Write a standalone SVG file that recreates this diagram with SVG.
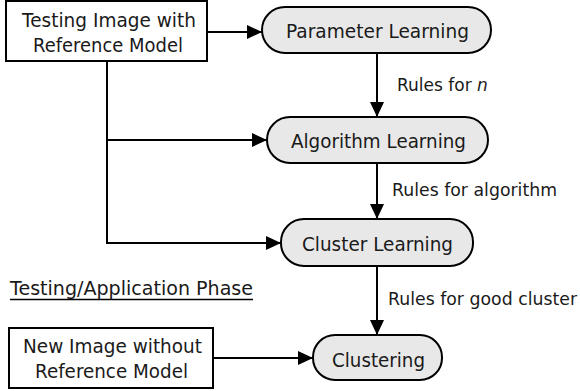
<svg xmlns="http://www.w3.org/2000/svg" width="580" height="391" viewBox="0 0 580 391">
<style>
  .box{fill:#fff;stroke:#000;stroke-width:2}
  .pill{fill:#e8e8e8;stroke:#000;stroke-width:2}
  .t{font-family:"DejaVu Sans",sans-serif;font-size:19px;fill:#1a1a1a}
  .l{font-family:"DejaVu Sans",sans-serif;font-size:17px;fill:#1a1a1a}
  .c{fill:none;stroke:#000;stroke-width:2}
</style>
<defs>
  <marker id="ah" markerUnits="userSpaceOnUse" markerWidth="16" markerHeight="14" refX="15" refY="7" orient="auto">
    <path d="M0,0 L15,7 L0,14 Z" fill="#000"/>
  </marker>
</defs>
<rect width="580" height="391" fill="#fff"/>
<g id="connectors">
  <line class="c" x1="207" y1="32" x2="262" y2="32" marker-end="url(#ah)"/>
  <line class="c" x1="377" y1="53" x2="377" y2="117" marker-end="url(#ah)"/>
  <line class="c" x1="377" y1="163" x2="377" y2="219" marker-end="url(#ah)"/>
  <line class="c" x1="377" y1="266" x2="377" y2="335" marker-end="url(#ah)"/>
  <path class="c" d="M107,61 V243 H281" marker-end="url(#ah)"/>
  <line class="c" x1="107" y1="140" x2="267" y2="140" marker-end="url(#ah)"/>
  <line class="c" x1="213" y1="358" x2="313" y2="358" marker-end="url(#ah)"/>
  <text class="l" x="397" y="91">Rules for <tspan font-style="italic">n</tspan></text>
  <text class="l" x="392" y="196" textLength="165" lengthAdjust="spacingAndGlyphs">Rules for algorithm</text>
  <text class="l" x="388" y="305" textLength="189" lengthAdjust="spacingAndGlyphs">Rules for good cluster</text>
</g>
<g id="testing-image">
  <rect class="box" x="6" y="1" width="201" height="60"/>
  <text class="t" x="22" y="27" textLength="174" lengthAdjust="spacingAndGlyphs">Testing Image with</text>
  <text class="t" x="33" y="52" textLength="150" lengthAdjust="spacingAndGlyphs">Reference Model</text>
</g>
<g id="parameter-learning">
  <rect class="pill" x="262" y="7" width="229" height="46" rx="23"/>
  <text class="t" x="286" y="38" textLength="183" lengthAdjust="spacingAndGlyphs">Parameter Learning</text>
</g>
<g id="algorithm-learning">
  <rect class="pill" x="267" y="117" width="221" height="46" rx="23"/>
  <text class="t" x="291" y="148" textLength="175" lengthAdjust="spacingAndGlyphs">Algorithm Learning</text>
</g>
<g id="cluster-learning">
  <rect class="pill" x="281" y="219" width="192" height="47" rx="23"/>
  <text class="t" x="302" y="251" textLength="151" lengthAdjust="spacingAndGlyphs">Cluster Learning</text>
</g>
<g id="phase-label">
  <text class="t" x="10" y="295" textLength="243" lengthAdjust="spacingAndGlyphs">Testing/Application Phase</text>
  <line x1="10" y1="299.5" x2="253" y2="299.5" stroke="#000" stroke-width="1.5"/>
</g>
<g id="new-image">
  <rect class="box" x="9" y="328" width="204" height="60"/>
  <text class="t" x="23" y="353" textLength="179" lengthAdjust="spacingAndGlyphs">New Image without</text>
  <text class="t" x="35" y="378" textLength="153" lengthAdjust="spacingAndGlyphs">Reference Model</text>
</g>
<g id="clustering">
  <rect class="pill" x="313" y="335" width="129" height="45" rx="22"/>
  <text class="t" x="332" y="367" textLength="93" lengthAdjust="spacingAndGlyphs">Clustering</text>
</g>
</svg>
